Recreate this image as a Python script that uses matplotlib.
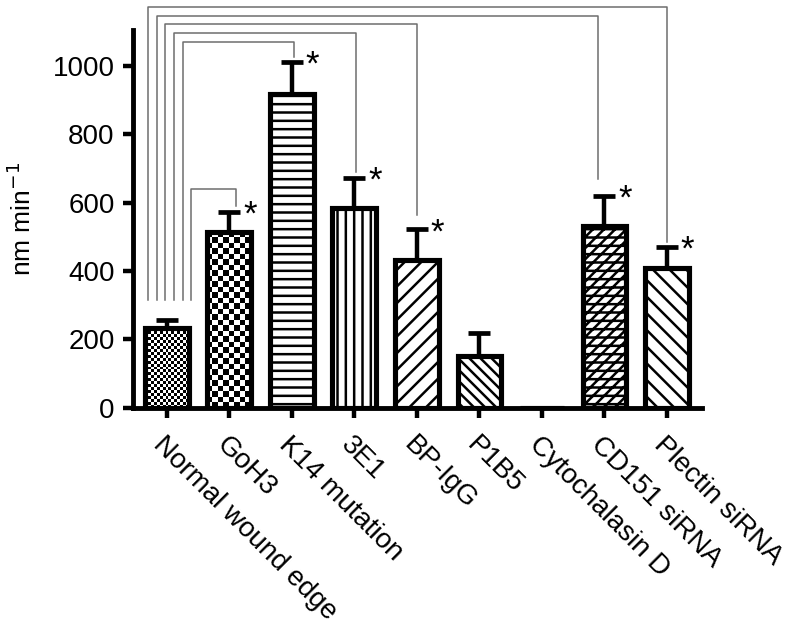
import numpy as np
import matplotlib
matplotlib.use('Agg')
import matplotlib.pyplot as plt

plt.rcParams['font.family'] = ['Liberation Sans', 'DejaVu Sans']
plt.rcParams['hatch.linewidth'] = 1.8

categories = ['Normal wound edge', 'GoH3', 'K14 mutation', '3E1', 'BP-IgG',
              'P1B5', 'Cytochalasin D', 'CD151 siRNA', 'Plectin siRNA']
values = [233, 513, 917, 585, 431, 152, 0, 531, 410]
errors = [24, 60, 94, 88, 91, 68, 0, 89, 60]
hatches = [None, None, '--', '||', '//', '\\\\\\', '', '///--', '\\\\']
checker = {0: 3.0, 1: 5.5}   # square size in px for checkerboard bars
significant = [1, 2, 3, 4, 7, 8]
# comparisons against the normal wound edge (and GoH3)
brackets = [  # (from, offset at from, to, offset at to, top value, bottom at to)
    (0, -0.30, 8, 0.00, 1172, 485),
    (0, -0.16, 7, -0.11, 1146, 670),
    (0, -0.03, 4, 0.00, 1122, 565),
    (0, 0.11, 3, 0.03, 1095, 690),
    (0, 0.26, 2, 0.03, 1068, 1025),
    (0, 0.38, 1, 0.10, 640, 590),
]

fig = plt.figure(figsize=(8, 6.33), dpi=100)
ax = fig.add_axes([0.166, 0.3555, 0.7115, 0.5971])
x = np.arange(len(categories))
ax.set_xlim(-0.544, 8.56)
ax.set_ylim(0, 1104)

bars = ax.bar(x, values, width=0.7, facecolor='white', edgecolor='black',
              linewidth=0, zorder=2)
for b, h in zip(bars, hatches):
    if h:
        b.set_hatch(h)

# checkerboard fills
for i, sq in checker.items():
    b = bars[i]
    x0, w, h = b.get_x(), b.get_width(), b.get_height()
    p0 = ax.transData.transform((x0, 0))
    p1 = ax.transData.transform((x0 + w, h))
    nc = int(round((p1[0] - p0[0]) / sq))
    nr = int(round((p1[1] - p0[1]) / sq))
    grid = (np.add.outer(np.arange(nr), np.arange(nc)) % 2).astype(float)
    im = ax.imshow(grid, cmap='gray', extent=(x0, x0 + w, 0, h), aspect='auto',
                   interpolation='nearest', zorder=2.5, vmin=0, vmax=1)
    im.set_clip_path(b)

ax.bar(x, values, width=0.7, fill=False, edgecolor='black', linewidth=3.7,
       zorder=3)
ax.errorbar(x, values, yerr=[np.zeros(len(errors)), errors], fmt='none',
            ecolor='black', elinewidth=3.2, capsize=8, capthick=3.4, zorder=1)

for a, oa, b, ob, top, bot in brackets:
    ax.plot([a + oa, a + oa, b + ob, b + ob], [315, top, top, bot],
            color='#6e6e6e', lw=1.1, clip_on=False, zorder=1)

for i in significant:
    ax.text(x[i] + 0.33, values[i] + errors[i] - 38, '*', fontsize=25,
            ha='center', va='baseline')

for s in ['top', 'right']:
    ax.spines[s].set_visible(False)
for s in ['left', 'bottom']:
    ax.spines[s].set_linewidth(3.5)
ax.set_yticks([0, 200, 400, 600, 800, 1000])
ax.set_xticks(x)
ax.set_xticklabels(categories, rotation=-45, ha='left', va='top',
                   rotation_mode='anchor')
ax.tick_params(axis='both', length=7, width=3.2, labelsize=20, pad=6)
ax.tick_params(axis='x', pad=10)
ax.set_ylabel('nm min$^{-1}$', fontsize=19, labelpad=12)

fig.savefig('out.png', dpi=100)
